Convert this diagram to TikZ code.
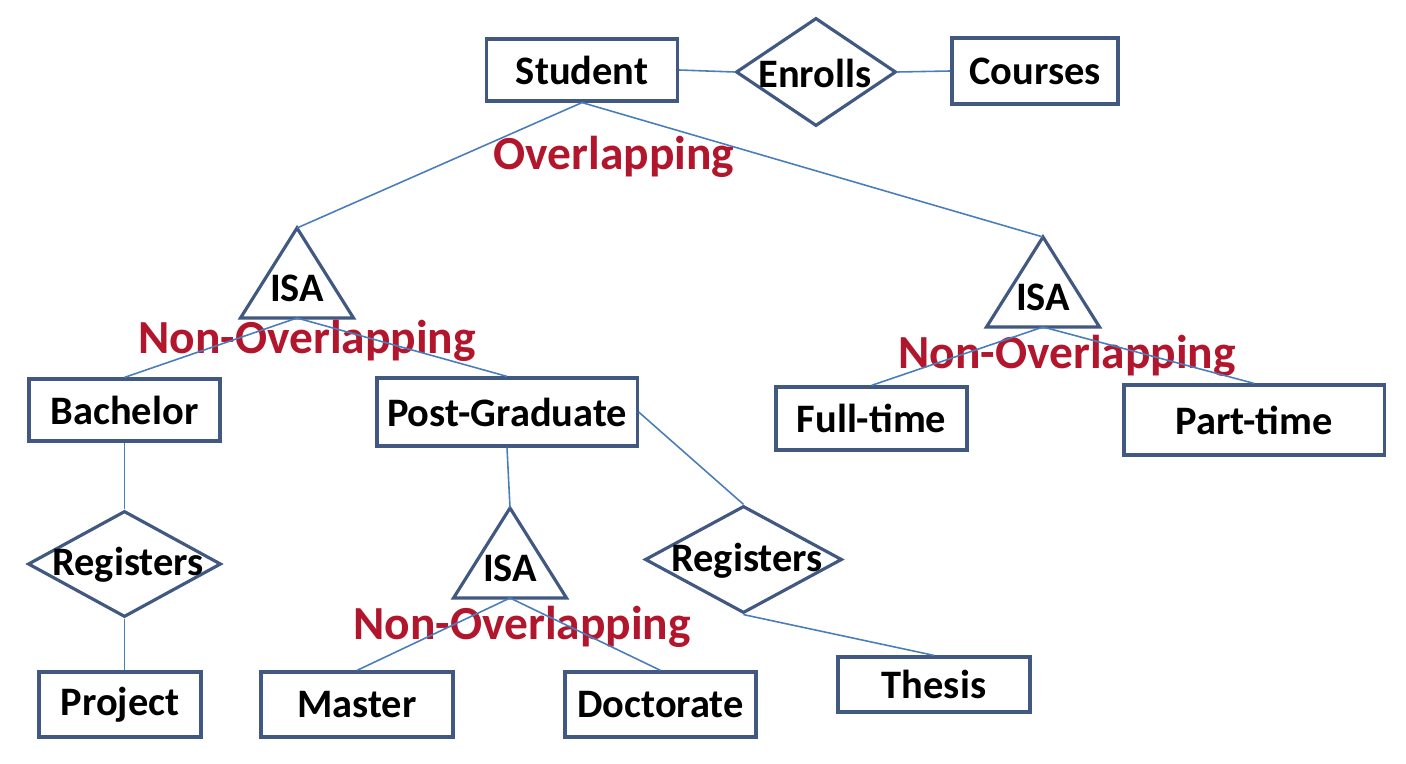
\documentclass[tikz,border=0pt]{standalone}
\usepackage{fontspec}
\setmainfont{Carlito}
\usetikzlibrary{shapes.geometric}
\definecolor{boxblue}{RGB}{65,88,128}
\definecolor{lineblue}{RGB}{74,126,187}
\definecolor{isared}{RGB}{178,22,45}
\tikzset{
  entity/.style={draw=boxblue, line width=0.9pt, rectangle, inner sep=0pt,
    font=\fontsize{11.5}{13}\selectfont\bfseries},
  rel/.style={draw=boxblue, line width=0.9pt, diamond, inner sep=0pt},
  reltext/.style={font=\fontsize{11.5}{13}\selectfont\bfseries},
  cons/.style={text=isared, font=\fontsize{13.5}{15}\selectfont\bfseries},
  isatri/.style={draw=boxblue, line width=0.9pt, line join=miter},
  link/.style={draw=lineblue, line width=0.45pt}
}

\begin{document}
\begin{tikzpicture}[x=0.01cm, y=-0.01cm]
        \useasboundingbox (0,0) rectangle (1406,764);
        % entities
        \node[entity, minimum width=1.91cm, minimum height=0.62cm] (student) at (582,70) {Student};
        \node[entity, minimum width=1.66cm, minimum height=0.66cm] (courses) at (1035,71) {Courses};
        \node[entity, minimum width=1.91cm, minimum height=0.62cm] (bach) at (124.5,410) {Bachelor};
        \node[entity, minimum width=2.60cm, minimum height=0.68cm] (pg) at (507,412) {Post-Graduate};
        \node[entity, minimum width=1.91cm, minimum height=0.63cm] (ft) at (871.5,418.5) {Full-time};
        \node[entity, minimum width=2.60cm, minimum height=0.70cm] (pt) at (1254,420) {Part-time};
        \node[entity, minimum width=1.62cm, minimum height=0.65cm] (proj) at (120,704.5) {Project};
        \node[entity, minimum width=1.92cm, minimum height=0.65cm] (master) at (357,704.5) {Master};
        \node[entity, minimum width=1.91cm, minimum height=0.65cm] (doc) at (660.5,704.5) {Doctorate};
        \node[entity, minimum width=1.92cm, minimum height=0.55cm] (thesis) at (934,684.5) {Thesis};
        % relationships
        \node[rel, minimum width=1.60cm, minimum height=1.08cm] (enrolls) at (816,72) {};
        \node[reltext] at (815,73) {Enrolls};
        \node[rel, minimum width=1.93cm, minimum height=1.06cm] (reg1) at (124.5,564) {};
        \node[reltext] at (128,565) {Registers};
        \node[rel, minimum width=1.97cm, minimum height=1.07cm] (reg2) at (743.5,559.5) {};
        \node[reltext] at (747,561) {Registers};
        % isa triangles
        \foreach \n/\x/\y in {isa1/297/228, isa2/1043/237, isa3/510/508}{
            \coordinate (\n top) at (\x,\y);
            \coordinate (\n base) at (\x,\y+90);
            \draw[isatri] (\n top) -- ++(56.5,90) -- ++(-113,0) -- cycle;
            \node[reltext] (\n) at (\x,\y+60) {ISA};
        }
        % constraints
        \node[cons] (ovl) at (614,157) {Overlapping};
        \node[cons] (nov1) at (307,341) {Non-Overlapping};
        \node[cons] (nov2) at (1067,356) {Non-Overlapping};
        \node[cons] (nov3) at (522,627) {Non-Overlapping};
        % connectors
        \draw[link] (student.east) -- (enrolls.west);
        \draw[link] (enrolls.east) -- (courses.west);
        \draw[link] (student.south) -- (isa1top);
        \draw[link] (student.south) -- (isa2top);
        \draw[link] (isa1base) -- (bach.north);
        \draw[link] (isa1base) -- (pg.north);
        \draw[link] (isa2base) -- (ft.north);
        \draw[link] (isa2base) -- (pt.north);
        \draw[link] (bach.south) -- (reg1.north);
        \draw[link] (reg1.south) -- (reg1.south |- proj.north);
        \draw[link] (pg.south) -- (isa3top);
        \draw[link] (pg.east) -- (reg2.north);
        \draw[link] (reg2.south) -- (thesis.north);
        \draw[link] (isa3base) -- (master.north);
        \draw[link] (isa3base) -- (doc.north);
\end{tikzpicture}
\end{document}
